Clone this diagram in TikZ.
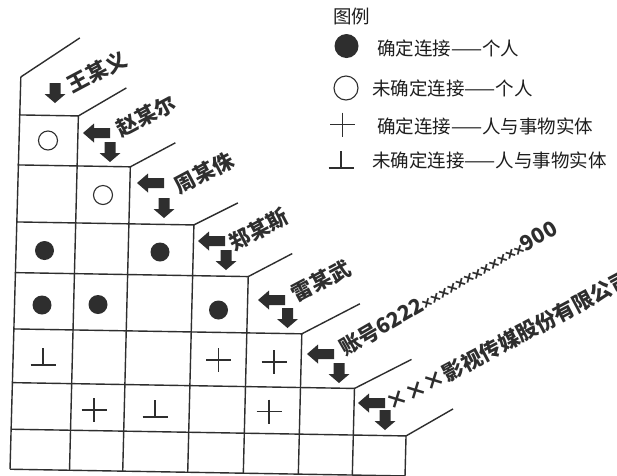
\documentclass[tikz,border=0pt]{standalone}
\usepackage{fontspec}
\newfontfamily\cjk{Noto Sans CJK SC}
\newfontfamily\latx{Liberation Sans}
\definecolor{ink}{HTML}{2E2E2E}
\definecolor{legink}{HTML}{1E1E1E}
\newcommand\bigx{\makebox[21pt]{×}}
\begin{document}
\begin{tikzpicture}[x=1pt,y=-1pt,
  gridline/.style={line width=1.4pt, draw=ink},
  fdot/.style={circle, fill=ink, inner sep=0pt, minimum size=19pt},
  odot/.style={circle, draw=ink, line width=1.1pt, inner sep=0pt, minimum size=19pt},
  namelabel/.style={font=\cjk\bfseries\fontsize{21}{21}\selectfont, text=ink, inner sep=0pt},
  legtext/.style={font=\cjk\fontsize{18.5}{18.5}\selectfont, text=legink, anchor=west, inner sep=0pt},
  pics/larr/.style={code={\fill[ink] (0,0) -- (11,-9.5) -- (11,-5) -- (27,-5) -- (27,5) -- (11,5) -- (11,9.5) -- cycle;}},
  pics/darr/.style={code={\fill[ink] (-5.5,0) -- (5.5,0) -- (5.5,11) -- (10.5,11) -- (0,20) -- (-10.5,11) -- (-5.5,11) -- cycle;}},
  pics/plussign/.style={code={\draw[ink, line width=1.1pt] (-12.5,0) -- (12.5,0) (0,-12) -- (0,12);}},
  pics/perpsign/.style={code={\draw[ink, line width=1.1pt] (-12.5,8) -- (12.5,8) (0,-9) -- (0,8);}},
]
\fill[white] (0,0) rectangle (617,475);
\useasboundingbox (0,0) rectangle (617,475);

% grid intersections (slightly skewed like the scan)
\begin{scope}[cm={1,-0.017,0.025,1,(11.75pt,0.255pt)}]
  \coordinate (g0-0) at (11,77);
  \foreach \c/\xx in {0/10,1/69.5,2/122.7,3/187.7,4/243.3,5/298.3,6/352.3,7/405}{
    \foreach \r/\yy in {1/115,2/165,3/222,4/272.7,5/329,6/382.7,7/429.3,8/469.3}{
      \coordinate (g\c-\r) at (\xx,\yy);
    }
  }
\end{scope}

% grid lines
\draw[gridline] (g0-0) -- (g0-8);
\foreach \k in {1,...,7}{\draw[gridline, line join=miter] (g0-\k) -- (g\k-\k) -- (g\k-8);}
\draw[gridline] (g0-8) -- (g7-8);

% header diagonals
\draw[gridline] (g0-0) -- ++(59,-39);
\foreach \k/\dx/\dy in {1/48/-28, 2/45/-24, 3/44/-22, 4/44/-23, 5/58/-30, 6/57/-29, 7/47/-27}
  \draw[gridline] (g\k-\k) -- ++(\dx,\dy);

% arrows
\pic at (55,83) {darr};
\foreach \lx/\ly/\dx/\dy in {83/133/110/142, 137/183/164/198, 198/241/226/250, 258/300/287.5/308, 307/354/339/363, 358/403/385/410}{
  \pic at (\lx,\ly) {larr};
  \pic at (\dx,\dy) {darr};
}

% labels
\node[namelabel, rotate=28] (n0) at (97,72) {王某义};
\node[namelabel, rotate=28] (n1) at (146,116) {赵某尔};
\node[namelabel, rotate=28] (n2) at (204,173) {周某侏};
\node[namelabel, rotate=28] (n3) at (259,230) {郑某斯};
\node[namelabel, rotate=28] (n4) at (321,281) {雷某武};
\node[namelabel, rotate=30, anchor=west] (acct) at (341,350) {账号6222{\latx\bfseries\fontsize{16.5}{16.5}\selectfont ××××××××××××}900};
\node[namelabel, rotate=28, anchor=west] (comp) at (388,405) {\bigx\bigx\bigx{}影视传媒股份有限公司};

% cell symbols
\node[odot] (s11) at (48,140.5) {};
\node[odot] (s22) at (103,195) {};
\node[fdot] (s31) at (44.5,250.5) {};
\node[fdot] (s33) at (160,252) {};
\node[fdot] (s41) at (42,305) {};
\node[fdot] (s42) at (98,304.5) {};
\node[fdot] (s44) at (218.5,310) {};
\pic at (43,357) {perpsign};
\pic at (218.5,360) {plussign};
\pic at (274,362) {plussign};
\pic at (94,410) {plussign};
\pic at (155,409) {perpsign};
\pic at (269,411.5) {plussign};

% legend
\node[legtext] (lt) at (333,16) {图例};
\node[fdot, minimum size=24pt] (l1) at (346.5,46) {};
\node[legtext] (l1t) at (377,48) {确定连接——个人};
\node[odot, minimum size=24pt] (l2) at (346,88) {};
\node[legtext] (l2t) at (372,88) {未确定连接——个人};
\pic at (342.5,124.5) {plussign};
\node[legtext] (l3t) at (377,126) {确定连接——人与事物实体};
\pic at (341,160) {perpsign};
\node[legtext] (l4t) at (372,160) {未确定连接——人与事物实体};
\end{tikzpicture}
\end{document}
